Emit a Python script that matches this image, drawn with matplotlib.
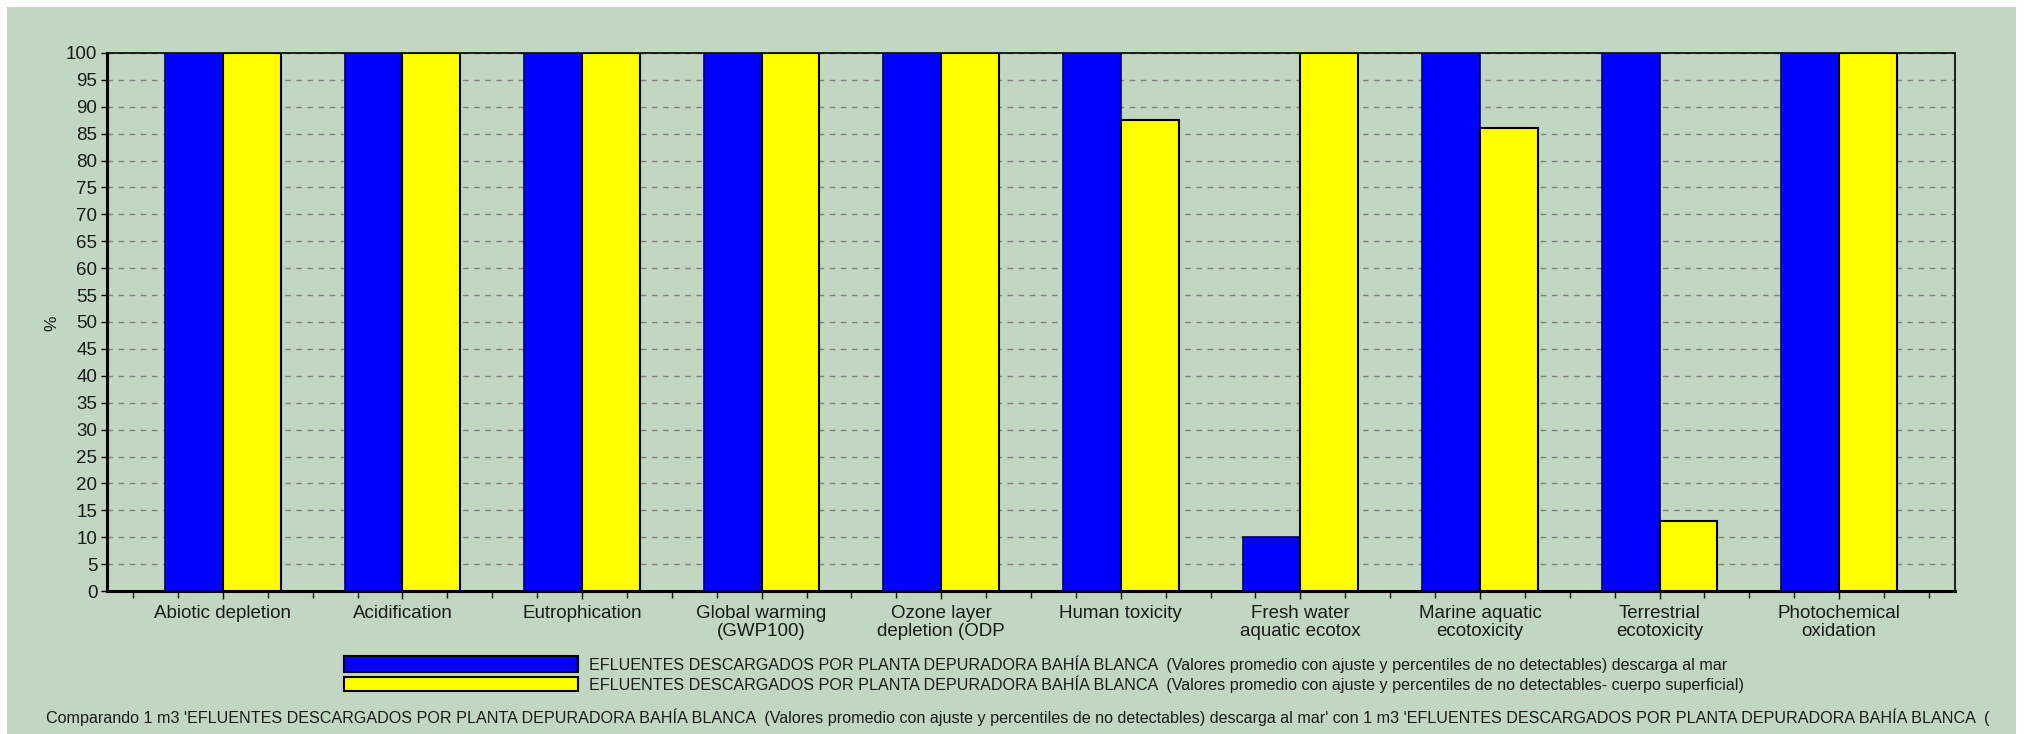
import numpy as np
import matplotlib
matplotlib.use("Agg")
import matplotlib.pyplot as plt
from matplotlib.patches import Rectangle
from matplotlib.ticker import MultipleLocator

# Datos
categorias = ["Abiotic depletion", "Acidification", "Eutrophication",
              "Global warming\n(GWP100)", "Ozone layer\ndepletion (ODP",
              "Human toxicity", "Fresh water\naquatic ecotox",
              "Marine aquatic\necotoxicity", "Terrestrial\necotoxicity",
              "Photochemical\noxidation"]
descarga_mar = [100, 100, 100, 100, 100, 100, 10, 100, 100, 100]
cuerpo_superficial = [100, 100, 100, 100, 100, 87.5, 100, 86, 13, 100]

serie_1 = ("EFLUENTES DESCARGADOS POR PLANTA DEPURADORA BAHÍA BLANCA  (Valores promedio "
           "con ajuste y percentiles de no detectables) descarga al mar")
serie_2 = ("EFLUENTES DESCARGADOS POR PLANTA DEPURADORA BAHÍA BLANCA  (Valores promedio "
           "con ajuste y percentiles de no detectables- cuerpo superficial)")
# el texto de pie aparece cortado en el borde derecho del original
pie = ("Comparando 1 m3 'EFLUENTES DESCARGADOS POR PLANTA DEPURADORA BAHÍA BLANCA  "
       "(Valores promedio con ajuste y percentiles de no detectables) descarga al mar' "
       "con 1 m3 'EFLUENTES DESCARGADOS POR PLANTA DEPURADORA BAHÍA BLANCA  (")

fondo = "#c1d7c1"
azul = "#0000ff"
amarillo = "#ffff00"
fuente = ["Liberation Sans", "DejaVu Sans"]

fig = plt.figure(figsize=(20.38, 7.34), dpi=100, facecolor="white")
# fondo verde con borde blanco arriba, izquierda y derecha
fig.add_artist(Rectangle((7 / 2038, 0), (2016 - 7) / 2038, 1 - 7 / 734,
                         transform=fig.transFigure, facecolor=fondo,
                         edgecolor="none", zorder=-10))

ax = fig.add_axes([107 / 2038, 1 - 591 / 734, (1955 - 107) / 2038, (591 - 53) / 734])
ax.set_facecolor(fondo)

x = np.arange(len(categorias))
w = 0.322
ax.bar(x - w / 2, descarga_mar, w, color=azul, edgecolor="#000060", linewidth=1.2, zorder=3)
ax.bar(x + w / 2, cuerpo_superficial, w, color=amarillo, edgecolor="black", linewidth=1.5, zorder=3)

ax.set_xlim(-0.645, len(categorias) - 1 + 0.645)
ax.set_ylim(0, 100)
ax.yaxis.set_major_locator(MultipleLocator(5))
ax.set_xticks(x)
ax.set_xticklabels(categorias, fontsize=13.5, family=fuente, color="#1a1a1a", linespacing=1.05)
ax.xaxis.set_minor_locator(MultipleLocator(0.25))
ax.tick_params(axis="x", which="major", length=6, width=1, pad=4)
ax.tick_params(axis="x", which="minor", length=5, width=1)
ax.tick_params(axis="y", length=4, width=1, labelsize=13.5, pad=3)
for t in ax.get_yticklabels():
    t.set_family(fuente)
    t.set_color("#1a1a1a")

ax.grid(axis="y", color="#808080", linestyle=(0, (4, 4)), linewidth=1, zorder=0)
for lado in ["top", "right"]:
    ax.spines[lado].set_linewidth(1.2)
for lado in ["left", "bottom"]:
    ax.spines[lado].set_linewidth(2.2)

fig.text(52 / 2038, 1 - 323 / 734, "%", rotation=90, ha="center", va="center",
         fontsize=12.5, family=fuente, color="#1a1a1a")

# leyenda
for y0, y1, color, etiqueta in [(656, 672, azul, serie_1), (677, 691, amarillo, serie_2)]:
    fig.add_artist(Rectangle((344 / 2038, 1 - y1 / 734), (578 - 344) / 2038, (y1 - y0) / 734,
                             transform=fig.transFigure, facecolor=color,
                             edgecolor="black", linewidth=1.5))
    fig.text(589 / 2038, 1 - (y0 + y1) / 2 / 734, etiqueta, ha="left", va="center",
             fontsize=11.6, family=fuente, color="#1a1a1a")

fig.text(46 / 2038, 1 - 717 / 734, pie, ha="left", va="center",
         fontsize=11.6, family=fuente, color="#1a1a1a")

fig.savefig("out.png", dpi=100, facecolor="white")
